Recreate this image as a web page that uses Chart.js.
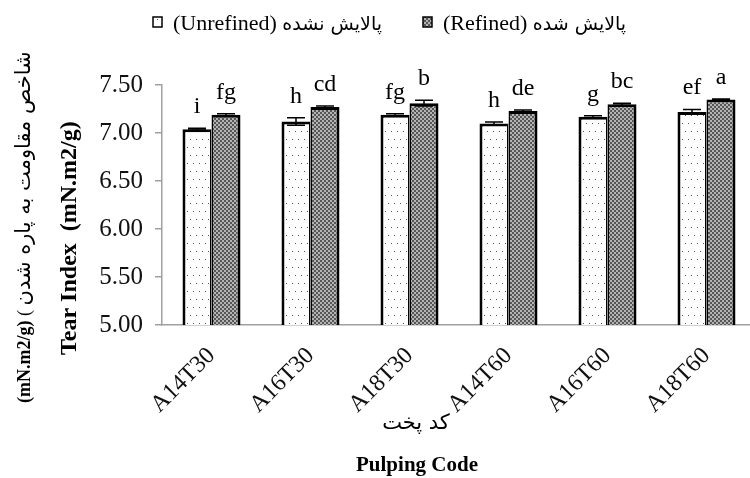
<!DOCTYPE html>
<html>
<head>
<meta charset="utf-8">
<title>Tear Index</title>
<script src="https://cdn.jsdelivr.net/npm/chart.js@4.4.1/dist/chart.umd.min.js"></script>
<style>
  html, body { margin: 0; padding: 0; background: #fff; overflow: hidden; }
</style>
</head>
<body>
<canvas id="tearChart" width="757" height="478"></canvas>
<script>
const pulpingCodes = ["A14T30", "A16T30", "A18T30", "A14T60", "A16T60", "A18T60"];
const unrefinedTear = [7.04, 7.12, 7.19, 7.10, 7.17, 7.22];
const refinedTear = [7.19, 7.27, 7.31, 7.23, 7.30, 7.35];
const unrefinedSd = [0.01, 0.04, 0.01, 0.015, 0.01, 0.025];
const refinedSd = [0.01, 0.01, 0.03, 0.01, 0.01, 0.005];
const unrefinedGroups = ["i", "h", "fg", "h", "g", "ef"];
const refinedGroups = ["fg", "cd", "b", "de", "bc", "a"];

const SERIF = '"Liberation Serif", "Times New Roman", serif';
const FA = '"DejaVu Sans", sans-serif';

// white with sparse dots
function dotPattern() {
  const c = document.createElement("canvas");
  c.width = 6; c.height = 16;
  const g = c.getContext("2d");
  g.fillStyle = "#fff";
  g.fillRect(0, 0, 6, 16);
  g.fillStyle = "#555";
  g.fillRect(1, 3, 1, 1);
  g.fillRect(4, 11, 1, 1);
  return g.createPattern(c, "repeat");
}

// fine grey checker
function checkerPattern() {
  const c = document.createElement("canvas");
  c.width = 4; c.height = 4;
  const g = c.getContext("2d");
  g.fillStyle = "#b4b4b4";
  g.fillRect(0, 0, 4, 4);
  g.fillStyle = "#565656";
  g.fillRect(0, 0, 2, 2);
  g.fillRect(2, 2, 2, 2);
  return g.createPattern(c, "repeat");
}

const dots = dotPattern();
const checker = checkerPattern();

// error bars + letter groups above each bar
const barNotes = {
  id: "barNotes",
  afterDatasetsDraw(chart) {
    const ctx = chart.ctx;
    const y = chart.scales.y;
    ctx.save();
    chart.data.datasets.forEach((ds, i) => {
      chart.getDatasetMeta(i).data.forEach((bar, j) => {
        const v = ds.data[j], sd = ds.sd[j];
        const top = y.getPixelForValue(v + sd);
        const bot = y.getPixelForValue(v - sd);
        ctx.strokeStyle = "#000";
        ctx.lineWidth = 1.5;
        ctx.beginPath();
        ctx.moveTo(bar.x, top); ctx.lineTo(bar.x, bot);
        ctx.moveTo(bar.x - 9, top); ctx.lineTo(bar.x + 9, top);
        ctx.moveTo(bar.x - 9, bot); ctx.lineTo(bar.x + 9, bot);
        ctx.stroke();
        ctx.fillStyle = "#000";
        ctx.font = "24px " + SERIF;
        ctx.textAlign = "center";
        ctx.textBaseline = "alphabetic";
        ctx.fillText(ds.groups[j], bar.x, Math.min(top, y.getPixelForValue(v)) - 15);
      });
    });
    ctx.restore();
  }
};

// legend and axis titles
const chartText = {
  id: "chartText",
  afterDraw(chart) {
    const ctx = chart.ctx;
    ctx.save();
    ctx.fillStyle = "#000";
    ctx.textBaseline = "alphabetic";
    ctx.textAlign = "left";

    // legend
    const legendX = [153, 423];
    chart.data.datasets.forEach((ds, i) => {
      const x = legendX[i];
      ctx.fillStyle = ds.backgroundColor;
      ctx.fillRect(x, 17, 9, 10);
      ctx.strokeStyle = "#000";
      ctx.lineWidth = 1.5;
      ctx.strokeRect(x, 17, 9, 10);
      ctx.fillStyle = "#000";
      ctx.font = "22px " + SERIF;
      ctx.fillText(ds.label, x + 20, 30);
      const w = ctx.measureText(ds.label + " ").width;
      ctx.font = "19px " + FA;
      ctx.fillText(ds.labelFa, x + 20 + w, 30);
    });

    // y title, first line
    ctx.save();
    ctx.translate(30, 403);
    ctx.rotate(-Math.PI / 2);
    ctx.font = "bold 18px " + SERIF;
    ctx.fillText("(mN.m2/g)", 0, 0);
    let off = ctx.measureText("(mN.m2/g) ").width;
    ctx.font = "18px " + SERIF;
    ctx.fillText("(", off, 0);
    off += ctx.measureText("( ").width;
    ctx.font = "21px " + FA;
    ctx.fillText("شاخص مقاومت به پاره شدن", off, 0);
    ctx.restore();

    // y title, second line
    ctx.save();
    ctx.translate(76, 355);
    ctx.rotate(-Math.PI / 2);
    ctx.font = "bold 24px " + SERIF;
    ctx.fillText("Tear Index  (mN.m2/g)", 0, 0);
    ctx.restore();

    // x titles
    ctx.textAlign = "center";
    ctx.font = "21px " + FA;
    ctx.fillText("کد پخت", 416, 429);
    ctx.font = "bold 21px " + SERIF;
    ctx.fillText("Pulping Code", 417, 471);
    ctx.restore();
  }
};

new Chart(document.getElementById("tearChart"), {
  type: "bar",
  data: {
    labels: pulpingCodes,
    datasets: [
      {
        label: "(Unrefined)",
        labelFa: "پالایش نشده",
        data: unrefinedTear,
        sd: unrefinedSd,
        groups: unrefinedGroups,
        backgroundColor: dots,
        borderColor: "#000",
        borderWidth: { left: 3, top: 3, right: 1.5, bottom: 3 },
        borderSkipped: false,
      },
      {
        label: "(Refined)",
        labelFa: "پالایش شده",
        data: refinedTear,
        sd: refinedSd,
        groups: refinedGroups,
        backgroundColor: checker,
        borderColor: "#000",
        borderWidth: { left: 1.5, top: 3, right: 3, bottom: 3 },
        borderSkipped: false,
      },
    ],
  },
  options: {
    responsive: false,
    animation: false,
    events: [],
    layout: { padding: { top: 85, right: 1, left: 0, bottom: 0 } },
    datasets: { bar: { categoryPercentage: 0.586, barPercentage: 1 } },
    plugins: { legend: { display: false }, tooltip: { enabled: false } },
    scales: {
      x: {
        afterFit: (s) => { s.height = 153; },
        grid: { display: false },
        border: { display: true, color: "#a0a0a0", width: 1.5 },
        ticks: {
          autoSkip: false,
          maxRotation: 45,
          minRotation: 45,
          padding: 9,
          color: "#111",
          font: { family: SERIF, size: 24 },
        },
      },
      y: {
        min: 5,
        max: 7.5,
        afterFit: (s) => { s.width = 162; },
        grid: { drawOnChartArea: false, drawTicks: true, tickLength: 7, color: "#a0a0a0", lineWidth: 1.5 },
        border: { display: true, color: "#a0a0a0", width: 1.5 },
        ticks: {
          stepSize: 0.5,
          padding: 12,
          color: "#111",
          font: { family: SERIF, size: 25 },
          callback: (v) => v.toFixed(2),
        },
      },
    },
  },
  plugins: [barNotes, chartText],
});
</script>
</body>
</html>
